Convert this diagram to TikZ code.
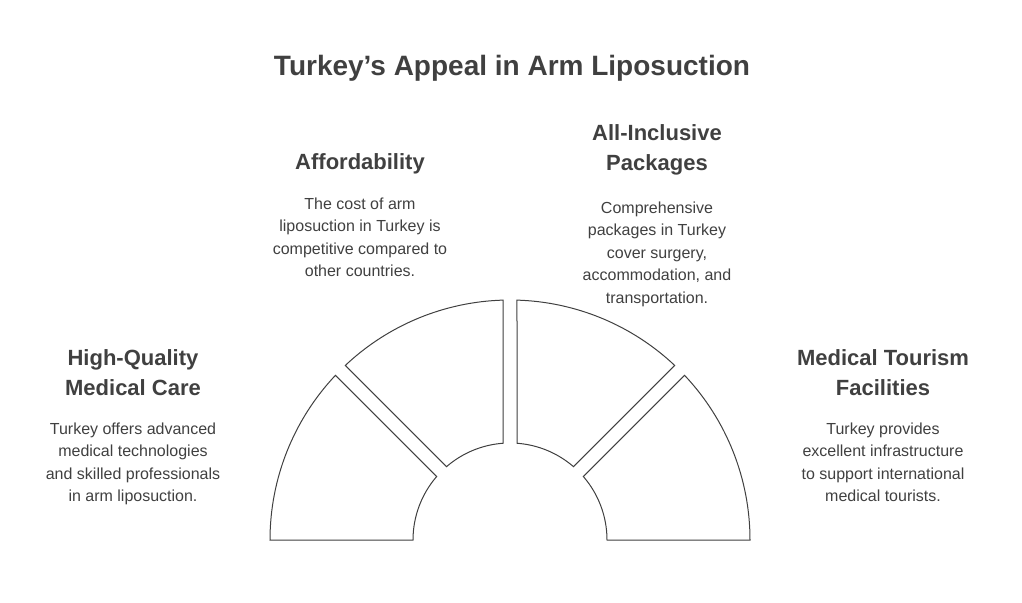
\documentclass[tikz,border=0pt]{standalone}
\usepackage{fontspec}
\setmainfont{Liberation Sans}
\definecolor{tx}{HTML}{404040}
\begin{document}
\begin{tikzpicture}[x=1pt,y=-1pt,
 seg/.style={draw=tx,line width=1pt,fill=white},
 head/.style={font=\fontsize{22}{30}\selectfont\bfseries,text=tx,align=center,anchor=north},
 body/.style={font=\fontsize{16}{22.5}\selectfont,text=tx,align=center,anchor=north}]
\useasboundingbox (0,0) rectangle (1022,602);
\coordinate (c) at (510,540);
\newcommand{\segm}[4]{%
 \draw[seg] ([shift={(c)}]#1:240) arc[start angle=#1,end angle=#2,radius=240]
  -- ([shift={(c)}]#3:97) arc[start angle=#3,end angle=#4,radius=97] -- cycle;}
\segm{-180}{-136.67}{-139.14}{-180}
\segm{-133.33}{-91.67}{-94.14}{-130.86}
\segm{-88.33}{-46.67}{-49.14}{-85.86}
\segm{-43.33}{0}{0}{-40.86}
\node[font=\fontsize{28}{32}\selectfont\bfseries,text=tx] (title) at (512,68) {Turkey's Appeal in Arm Liposuction};
\node[head] (h1) at (360,150) {Affordability};
\node[body] (b1) at (360,194) {The cost of arm\\liposuction in Turkey is\\competitive compared to\\other countries.};
\node[head] (h2) at (657,121) {All-Inclusive\\Packages};
\node[body] (b2) at (657,198) {Comprehensive\\packages in Turkey\\cover surgery,\\accommodation, and\\transportation.};
\node[head] (h3) at (133,346) {High-Quality\\Medical Care};
\node[body] (b3) at (133,419) {Turkey offers advanced\\medical technologies\\and skilled professionals\\in arm liposuction.};
\node[head] (h4) at (883,346) {Medical Tourism\\Facilities};
\node[body] (b4) at (883,419) {Turkey provides\\excellent infrastructure\\to support international\\medical tourists.};
\end{tikzpicture}
\end{document}
